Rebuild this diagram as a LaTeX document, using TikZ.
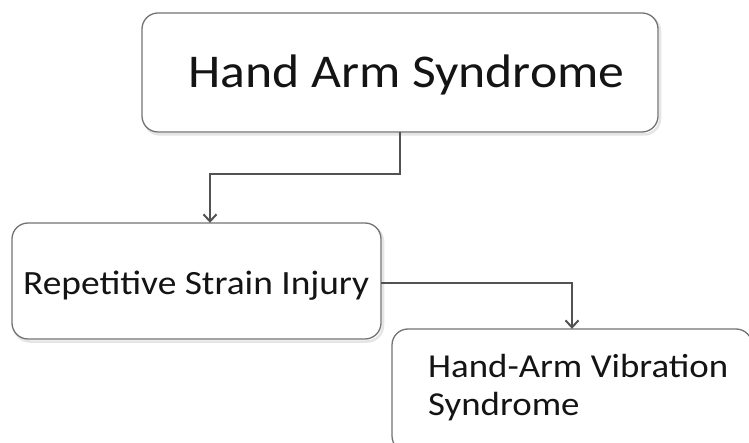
\documentclass[tikz,border=0pt]{standalone}
\usepackage{fontspec}
\setmainfont{Carlito}
\newfontfamily\wide[FakeStretch=1.1]{Carlito}
\usetikzlibrary{arrows.meta}
\begin{document}
\begin{tikzpicture}[x=1pt,y=-1pt,
  box/.style={draw=black!55,line width=1.3pt,rounded corners=16pt,fill=white},
  shade/.style={draw=black!10,line width=2.5pt,rounded corners=16pt},
  conn/.style={draw=black!68,line width=2pt,-{Straight Barb[length=7pt,width=13pt,line width=2pt]}},
  lbl/.style={inner sep=0pt,anchor=base west,text=black!92}]
  \useasboundingbox (0,0) rectangle (749,443);
  \clip (0,0) rectangle (749,443);
  % soft shadows under the boxes
  \draw[shade] (144,15.5) rectangle (660,134.5);
  \draw[shade] (14,225.5) rectangle (383,341.5);
  % boxes
  \draw[box] (142,13) rectangle (658,132);
  \node[inner sep=0pt,minimum width=516pt,minimum height=119pt] (top) at (400,72.5) {};
  \draw[box] (12,223) rectangle (381,339);
  \node[inner sep=0pt,minimum width=369pt,minimum height=116pt] (rsi) at (196.5,281) {};
  \draw[box] (392,329) rectangle (752,452);
  \node[inner sep=0pt,minimum width=360pt,minimum height=123pt] (havs) at (572,390.5) {};
  % labels
  \node[lbl,font=\wide\fontsize{47}{52}\selectfont] (t1) at (188,88) {Hand Arm Syndrome};
  \node[lbl,font=\wide\fontsize{34}{38}\selectfont] (t2) at (23,295) {Repetitive Strain Injury};
  \node[lbl,font=\wide\fontsize{33.5}{38}\selectfont] (t3) at (428,377) {Hand-Arm Vibration};
  \node[lbl,font=\wide\fontsize{33.5}{38}\selectfont] (t4) at (428,415) {Syndrome};
  % connectors
  \coordinate (k1) at (400,174);
  \coordinate (k2) at (210,174);
  \draw[conn] (top.south -| k1) -- (k1) -- (k2) -- (rsi.north -| k2);
  \coordinate (k3) at (572,283);
  \draw[conn] (rsi.east |- k3) -- (k3) -- (havs.north -| k3);
\end{tikzpicture}
\end{document}
